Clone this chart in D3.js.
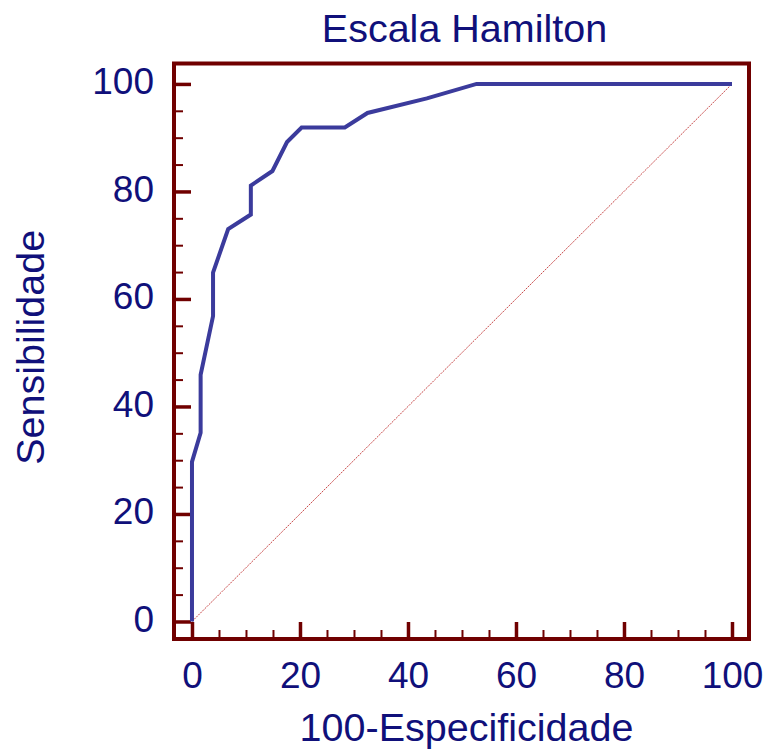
<!DOCTYPE html>
<html>
<head>
<meta charset="utf-8">
<script src="https://cdn.jsdelivr.net/npm/d3@7"></script>
<style>
  html, body { margin: 0; padding: 0; background: #fff; }
  svg { display: block; }
</style>
</head>
<body>
<svg id="chart" width="766" height="756"></svg>
<script>
// ROC curve for the Hamilton scale
const fpr = [0, 0, 1.6, 1.6, 3.9, 3.9, 6.7, 10.9, 10.9, 14.9, 17.6, 20.3, 28.3, 32.5, 43.5, 52.7, 100];
const sens = [0, 29.7, 35.1, 45.9, 56.8, 64.9, 73.0, 75.7, 81.1, 83.8, 89.2, 91.9, 91.9, 94.6, 97.3, 100, 100];
const diagonal = [0, 100];
const majorTicks = [0, 20, 40, 60, 80, 100];
const minorTicks = [5, 10, 15, 25, 30, 35, 45, 50, 55, 65, 70, 75, 85, 90, 95];
const titleText = "Escala Hamilton";
const xLabel = "100-Especificidade";
const yLabel = "Sensibilidade";

const svg = d3.select("#chart");
const font = "'Liberation Sans', Arial, sans-serif";
const textColor = "#10107a";
const frameColor = "#700000";

// plot frame extends a little past the 0–100 range on every side
const x = d3.scaleLinear().domain([-3.33, 103.15]).range([174, 749]);
const y = d3.scaleLinear().domain([-3.26, 103.8]).range([639, 63.5]);

const [x0, x1] = x.range();
const [yb, yt] = y.range();

// minor ticks
svg.append("g")
  .attr("transform", `translate(${x0},0)`)
  .call(d3.axisLeft(y).tickValues(minorTicks).tickSize(-9).tickFormat(""))
  .call(g => g.select(".domain").remove())
  .call(g => g.selectAll("line").attr("stroke", frameColor).attr("stroke-width", 2));
svg.append("g")
  .attr("transform", `translate(0,${yb})`)
  .call(d3.axisBottom(x).tickValues(minorTicks).tickSize(-9).tickFormat(""))
  .call(g => g.select(".domain").remove())
  .call(g => g.selectAll("line").attr("stroke", frameColor).attr("stroke-width", 2));

// major ticks with labels
svg.append("g")
  .attr("transform", `translate(${x0},0)`)
  .call(d3.axisLeft(y).tickValues(majorTicks).tickSize(-17).tickPadding(20))
  .call(g => g.select(".domain").remove())
  .call(g => g.selectAll("line").attr("stroke", frameColor).attr("stroke-width", 3.5))
  .call(g => g.selectAll("text").attr("fill", textColor).attr("dy", "0.27em")
    .style("font-family", font).style("font-size", "37px"));
svg.append("g")
  .attr("transform", `translate(0,${yb})`)
  .call(d3.axisBottom(x).tickValues(majorTicks).tickSize(-17).tickPadding(23))
  .call(g => g.select(".domain").remove())
  .call(g => g.selectAll("line").attr("stroke", frameColor).attr("stroke-width", 3.5))
  .call(g => g.selectAll("text").attr("fill", textColor)
    .style("font-family", font).style("font-size", "37px"));

// reference diagonal
svg.append("line")
  .attr("x1", x(diagonal[0])).attr("y1", y(diagonal[0]))
  .attr("x2", x(diagonal[1])).attr("y2", y(diagonal[1]))
  .attr("stroke", "#c84848")
  .attr("stroke-width", 1)
  .attr("stroke-dasharray", "2,1");

// ROC curve
const line = d3.line().x((d, i) => x(fpr[i])).y((d, i) => y(sens[i]));
svg.append("path")
  .attr("d", line(fpr))
  .attr("fill", "none")
  .attr("stroke", "#3b3b9c")
  .attr("stroke-width", 4)
  .attr("stroke-linejoin", "miter");

// frame
svg.append("rect")
  .attr("x", x0).attr("y", yt)
  .attr("width", x1 - x0).attr("height", yb - yt)
  .attr("fill", "none")
  .attr("stroke", frameColor)
  .attr("stroke-width", 4);

// titles
svg.append("text")
  .attr("x", (x0 + x1) / 2 + 3).attr("y", 42)
  .attr("text-anchor", "middle")
  .attr("fill", textColor)
  .style("font-family", font).style("font-size", "39.5px")
  .text(titleText);

svg.append("text")
  .attr("x", (x0 + x1) / 2 + 5).attr("y", 741)
  .attr("text-anchor", "middle")
  .attr("fill", textColor)
  .style("font-family", font).style("font-size", "39.5px")
  .text(xLabel);

svg.append("text")
  .attr("transform", `translate(44,${(yb + yt) / 2 - 4})rotate(-90)`)
  .attr("text-anchor", "middle")
  .attr("fill", textColor)
  .style("font-family", font).style("font-size", "39.5px")
  .text(yLabel);
</script>
</body>
</html>
